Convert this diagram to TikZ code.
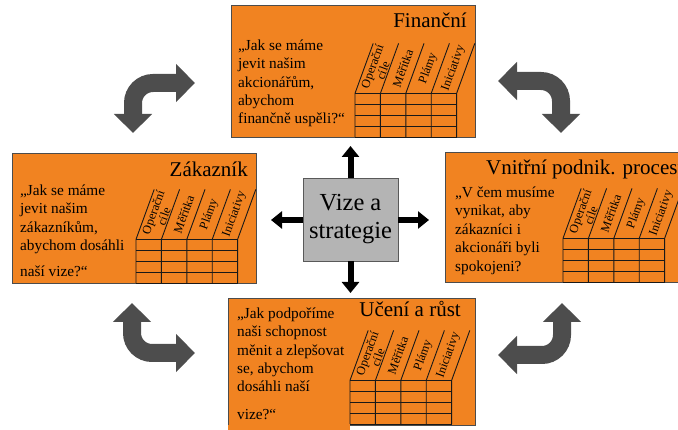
\documentclass[tikz,border=0pt]{standalone}
\usepackage{fontspec}
\setmainfont{Liberation Serif}
\usetikzlibrary{arrows.meta}
\definecolor{bscOrange}{RGB}{241,131,33}
\definecolor{bscGray}{RGB}{77,77,77}
\definecolor{bscCore}{RGB}{180,180,180}

\newcommand{\bsctable}[3]{%
  \foreach \r in {0,...,4}
    \draw[tabline] (#2,#3-\r*10.9) -- ++(101.6,0);
  \foreach \c in {0,...,4}
    \draw[tabline] (#2+\c*25.4,#3) -- ++(0,-43.6) -- ++(18.2,-50);
  \foreach \lab [count=\i from 0] in {{Operační\\cíle},Měřítka,Plámy,Iniciativy}
    \node[collab] (#1-h\i) at (#2+\i*25.4+22.5,#3-68.6) {\lab};
}

\begin{document}
\begin{tikzpicture}[x=1pt, y=-1pt,
    panel/.style={draw=black!70, fill=bscOrange, line width=0.8pt, inner sep=0pt},
    ptitle/.style={font=\fontsize{21}{24}\selectfont, inner sep=0pt},
    ptext/.style={font=\fontsize{15.3}{18.4}\selectfont, align=left, inner sep=0pt, anchor=north west},
    tabline/.style={draw=black!90, line width=0.9pt},
    collab/.style={rotate=70, font=\fontsize{12.3}{11.5}\selectfont, align=center, inner sep=0pt},
    core/.style={draw=black!65, fill=bscCore, line width=0.8pt, minimum width=95pt,
                 minimum height=83pt, align=center, font=\fontsize{24.5}{28}\selectfont, inner sep=0pt},
    blkarr/.style={draw=black, line width=6pt, -{Triangle[width=17pt,length=11pt]}},
    bigarr/.style={draw=bscGray, line width=18pt, rounded corners=20pt,
                   {Triangle[width=37pt,length=19pt]}-{Triangle[width=37pt,length=19pt]}}
  ]
  \useasboundingbox (0,0) rectangle (678,430);
  \clip (0,0) rectangle (678,430);

  \node[panel, minimum width=244pt, minimum height=132pt] (fin) at (353,71) {};
  \node[panel, minimum width=244pt, minimum height=130pt] (zak) at (134,218) {};
  \node[panel, minimum width=260pt, minimum height=130pt] (vnp) at (575,217) {};
  \node[panel, minimum width=247pt, minimum height=127pt] (uce) at (351.5,361.5) {};
  \fill[bscOrange] (uce.south west) rectangle (350,430);

  \node[ptitle, anchor=base east] (fint) at (467,28) {Finanční};
  \node[ptitle, anchor=base east] (zakt) at (248,177) {Zákazník};
  \node[ptitle, anchor=base west] (vnpt) at (486,175) {Vnitřní podnik. procesy};
  \node[ptitle, anchor=base east] (ucet) at (461,317) {Učení a růst};

  \node[ptext] (finq) at (238,39.5) {„Jak se máme\\jevit našim\\akcionářům,\\abychom\\finančně uspěli?“};
  \node[ptext] (zakq) at (20,184.5) {„Jak se máme\\jevit našim\\zákazníkům,\\abychom dosáhli\\[7.7pt]naší vize?“};
  \node[ptext] (vnpq) at (455,186.6) {„V čem musíme\\vynikat, aby\\zákazníci i\\akcionáři byli\\spokojeni?};
  \node[ptext] (uceq) at (237,307.5) {„Jak podpoříme\\naši schopnost\\měnit a zlepšovat\\se, abychom\\dosáhli naší\\[9.5pt]vize?“};

  \bsctable{fin}{355}{137}
  \bsctable{zak}{136}{283}
  \bsctable{vnp}{563}{282}
  \bsctable{uce}{350}{424}

  \node[core] (vize) at (350.5,219.5) {Vize a\\strategie};
  \coordinate (vUp) at (350.5,146);
  \coordinate (vDown) at (350.5,293);
  \coordinate (vLeft) at (271,220);
  \coordinate (vRight) at (429,220);
  \draw[blkarr] (vize.north) -- (vUp);
  \draw[blkarr] (vize.south) -- (vDown);
  \draw[blkarr] (vize.west |- vLeft) -- (vLeft);
  \draw[blkarr] (vize.east |- vRight) -- (vRight);

  \coordinate (tlA) at (133,133);
  \coordinate (tlB) at (195,83);
  \coordinate (trA) at (498,81);
  \coordinate (trB) at (561,133);
  \coordinate (blA) at (132,303);
  \coordinate (blB) at (195,353);
  \coordinate (brA) at (498,355);
  \coordinate (brB) at (562,303);
  \draw[bigarr] (tlA) |- (tlB);
  \draw[bigarr] (trA) -| (trB);
  \draw[bigarr] (blA) |- (blB);
  \draw[bigarr] (brA) -| (brB);
\end{tikzpicture}
\end{document}
